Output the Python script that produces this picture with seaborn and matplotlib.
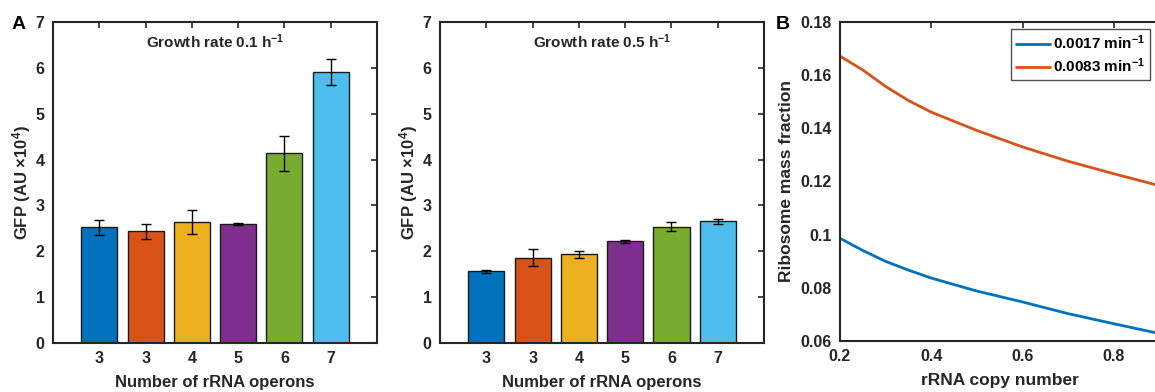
import matplotlib
matplotlib.use('Agg')
import matplotlib.pyplot as plt
import seaborn as sns
import pandas as pd
import numpy as np

# data
operons = ['3', '3', '4', '5', '6', '7']
gfp_01 = [2.52, 2.44, 2.64, 2.59, 4.14, 5.91]
err_01 = [0.16, 0.165, 0.27, 0.02, 0.38, 0.28]
gfp_05 = [1.56, 1.86, 1.93, 2.22, 2.54, 2.65]
err_05 = [0.03, 0.18, 0.07, 0.035, 0.095, 0.05]

copy_number = [0.2, 0.25, 0.3, 0.35, 0.4, 0.5, 0.6, 0.7, 0.8, 0.9]
rib_slow = [0.0987, 0.0941, 0.0900, 0.0867, 0.0837, 0.0788, 0.0747, 0.0703, 0.0665, 0.0628]
rib_fast = [0.1672, 0.1620, 0.1558, 0.1505, 0.1461, 0.1392, 0.1330, 0.1276, 0.1229, 0.1184]
rate_labels = [r'0.0017 min$^{-1}$', r'0.0083 min$^{-1}$']

bar_colors = ['#0072BD', '#D95319', '#EDB120', '#7E2F8E', '#77AC30', '#4DBEEE']
line_colors = ['#0072BD', '#D95319']
dark = '#262626'

sns.set_style('white')
plt.rcParams['font.family'] = ['Liberation Sans', 'DejaVu Sans']
plt.rcParams['font.weight'] = 'bold'
plt.rcParams['axes.labelweight'] = 'bold'
plt.rcParams['mathtext.fontset'] = 'custom'
plt.rcParams['mathtext.rm'] = 'Liberation Sans:bold'
plt.rcParams['mathtext.bf'] = 'Liberation Sans:bold'
plt.rcParams['mathtext.it'] = 'Liberation Sans:bold'
plt.rcParams['mathtext.default'] = 'bf'

fig = plt.figure(figsize=(11.55, 3.92), dpi=100)


def style_axes(ax, right=True):
    for s in ax.spines.values():
        s.set_visible(True)
        s.set_color(dark)
        s.set_linewidth(1.5)
    ax.tick_params(direction='in', top=True, right=right, length=4, width=1.2,
                   colors=dark, labelsize=11.5, pad=6)
    for lab in ax.get_xticklabels() + ax.get_yticklabels():
        lab.set_fontweight('bold')


def bar_panel(rect, vals, errs, title):
    ax = fig.add_axes(rect)
    df = pd.DataFrame({'idx': range(len(vals)), 'gfp': vals})
    sns.barplot(data=df, x='idx', y='gfp', hue='idx', palette=bar_colors,
                saturation=1, legend=False, width=0.78, edgecolor='#1a1a1a',
                linewidth=1.0, errorbar=None, ax=ax)
    ax.errorbar(df['idx'], df['gfp'], yerr=errs, fmt='none', ecolor='black',
                elinewidth=1.0, capsize=3.5, capthick=1.0)
    ax.set_xlim(-1, 6)
    ax.set_ylim(0, 7)
    ax.set_yticks(range(0, 8))
    ax.set_xticks(range(6))
    ax.set_xticklabels(operons)
    ax.set_xlabel('Number of rRNA operons', fontsize=12, color=dark, labelpad=6)
    ax.set_ylabel(r'GFP (AU $\times$10$^4$)', fontsize=12, color=dark, labelpad=2)
    ax.text(0.5, 0.937, title, transform=ax.transAxes, ha='center', va='center',
            fontsize=11, fontweight='bold', color=dark)
    style_axes(ax)
    return ax


ax1 = bar_panel([0.0459, 0.125, 0.2805, 0.819], gfp_01, err_01, r'Growth rate 0.1 h$^{-1}$')
ax2 = bar_panel([0.381, 0.125, 0.2805, 0.819], gfp_05, err_05, r'Growth rate 0.5 h$^{-1}$')

# panel B
ax3 = fig.add_axes([0.727, 0.130, 0.277, 0.814])
long = pd.DataFrame({
    'copy': copy_number * 2,
    'frac': rib_slow + rib_fast,
    'rate': [rate_labels[0]] * len(copy_number) + [rate_labels[1]] * len(copy_number),
})
sns.lineplot(data=long, x='copy', y='frac', hue='rate', palette=line_colors,
             linewidth=2.0, ax=ax3)
ax3.set_xlim(0.2, 0.9)
ax3.set_ylim(0.06, 0.18)
ax3.set_xticks([0.2, 0.4, 0.6, 0.8])
ax3.set_xticklabels(['0.2', '0.4', '0.6', '0.8'])
yt = [0.06, 0.08, 0.1, 0.12, 0.14, 0.16, 0.18]
ax3.set_yticks(yt)
ax3.set_yticklabels(['0.06', '0.08', '0.1', '0.12', '0.14', '0.16', '0.18'])
ax3.set_xlabel('rRNA copy number', fontsize=12.5, color=dark, labelpad=6)
ax3.set_ylabel('Ribosome mass fraction', fontsize=12.5, color=dark, labelpad=4)
style_axes(ax3, right=False)
leg = ax3.legend(loc='upper right', bbox_to_anchor=(0.9957, 0.926),
                 bbox_transform=fig.transFigure, borderaxespad=0, frameon=True,
                 fancybox=False, edgecolor=dark, fontsize=11, handlelength=2.2,
                 handletextpad=0.25, borderpad=0.3, labelspacing=0.3, title=None)
leg.get_frame().set_linewidth(1.0)
for t in leg.get_texts():
    t.set_fontweight('bold')
    t.set_color('black')

# panel letters
fig.text(0.010, 0.9375, 'A', fontsize=14, fontweight='bold', color='black', va='center')
fig.text(0.672, 0.9375, 'B', fontsize=14, fontweight='bold', color='black', va='center')

fig.savefig('out.png', dpi=100)
